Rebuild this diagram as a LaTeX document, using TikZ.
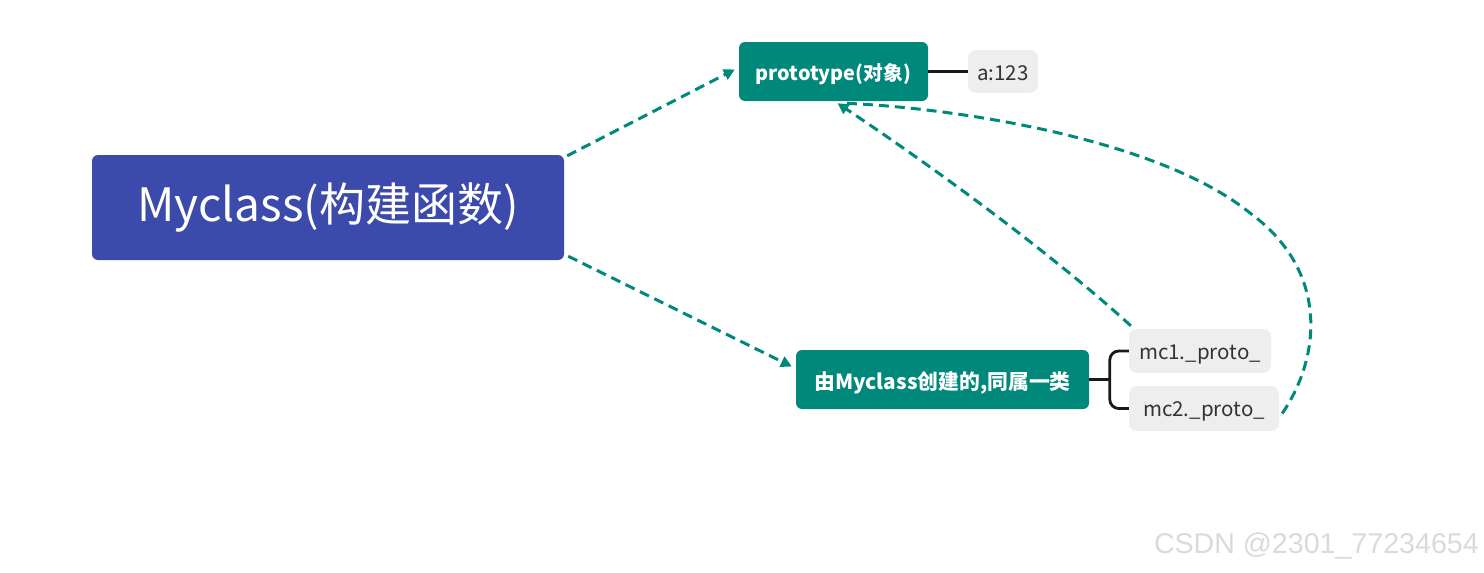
\documentclass[tikz,border=0pt]{standalone}
\usepackage{fontspec}
\setmainfont{Noto Sans CJK SC}
\newfontfamily\wmfont{Liberation Sans}
\usetikzlibrary{arrows.meta,calc}
\definecolor{tealc}{HTML}{00897B}
\definecolor{bluec}{HTML}{3B4AAB}
\definecolor{grayc}{HTML}{EEEEEE}
\definecolor{txtc}{HTML}{333333}
\definecolor{wmc}{HTML}{DADADA}
\tikzset{
  mainbox/.style={fill=bluec,text=white,rounded corners=6pt,inner sep=0pt,font=\fontsize{46}{50}\selectfont},
  tealbox/.style={fill=tealc,text=white,rounded corners=6pt,inner sep=0pt,text depth=0pt},
  leafbox/.style={fill=grayc,text=txtc,rounded corners=8pt,inner sep=0pt,text depth=0pt,font=\fontsize{20.5}{24}\selectfont},
  dasharrow/.style={draw=tealc,line width=3pt,dash pattern=on 10pt off 6pt,-{Triangle[length=11pt,width=11pt]}},
  dashcurve/.style={draw=tealc,line width=3pt,dash pattern=on 10pt off 6pt},
  link/.style={draw=black!90,line width=2.8pt}
}
\begin{document}
\begin{tikzpicture}[x=1pt,y=-1pt]
\useasboundingbox (0,0) rectangle (1484,573);
\node[mainbox,minimum width=472pt,minimum height=105pt] (main) at (328,207.5) {Myclass(构建函数)};
\node[tealbox,minimum width=189pt,minimum height=59pt,text height=17pt,font=\bfseries\fontsize{19.8}{24}\selectfont] (proto) at (833.5,71.5) {prototype(对象)};
\node[leafbox,minimum width=70pt,minimum height=43pt,text height=17pt] (a) at (1003,71.5) {a:123};
\node[tealbox,minimum width=293pt,minimum height=59pt,text height=19pt,font=\bfseries\fontsize{20.8}{24}\selectfont] (cls) at (942.5,379.5) {由Myclass创建的,同属一类};
\node[leafbox,minimum width=142pt,minimum height=44pt,text height=16pt] (mc1) at (1200,351) {mc1.\_proto\_};
\node[leafbox,minimum width=150pt,minimum height=45pt,text height=16pt] (mc2) at (1204,408.5) {mc2.\_proto\_};
\node[anchor=east,text=wmc,font=\wmfont\fontsize{28.6}{32}\selectfont,inner sep=0pt] (wm) at (1479,546) {CSDN @2301\_77234654};
% links
\draw[link] (proto.east) -- (a.west);
\draw[link] (cls.east) -- ($(cls.east)+(21,0)$);
\draw[link,rounded corners=9pt] (mc1.west) -- ++(-19,0) |- (mc2.west);
% dashed arrows
\coordinate (s1) at ($(main.north east)+(3,1)$);
\coordinate (t1) at ($(proto.west)+(-4,-2)$);
\draw[dasharrow] (s1) -- (t1);
\coordinate (s2) at ($(main.south east)+(4,-4)$);
\coordinate (t2) at ($(cls.west)+(-4,-13)$);
\draw[dasharrow] (s2) -- (t2);
\coordinate (s3) at ($(mc1.north west)+(2,-3)$);
\coordinate (t3) at ($(proto.south)+(4,2)$);
\draw[dasharrow] (s3) .. controls (1070,270) and (960,185) .. (t3);
\coordinate (s4) at ($(mc2.east)+(3,5)$);
\coordinate (m4) at (1250,213);
\draw[dashcurve] (s4) .. controls (1322,355) and (1328,270) .. (m4) .. controls (1160,140) and (960,108) .. ($(proto.south)+(10,2)$);
\end{tikzpicture}
\end{document}
